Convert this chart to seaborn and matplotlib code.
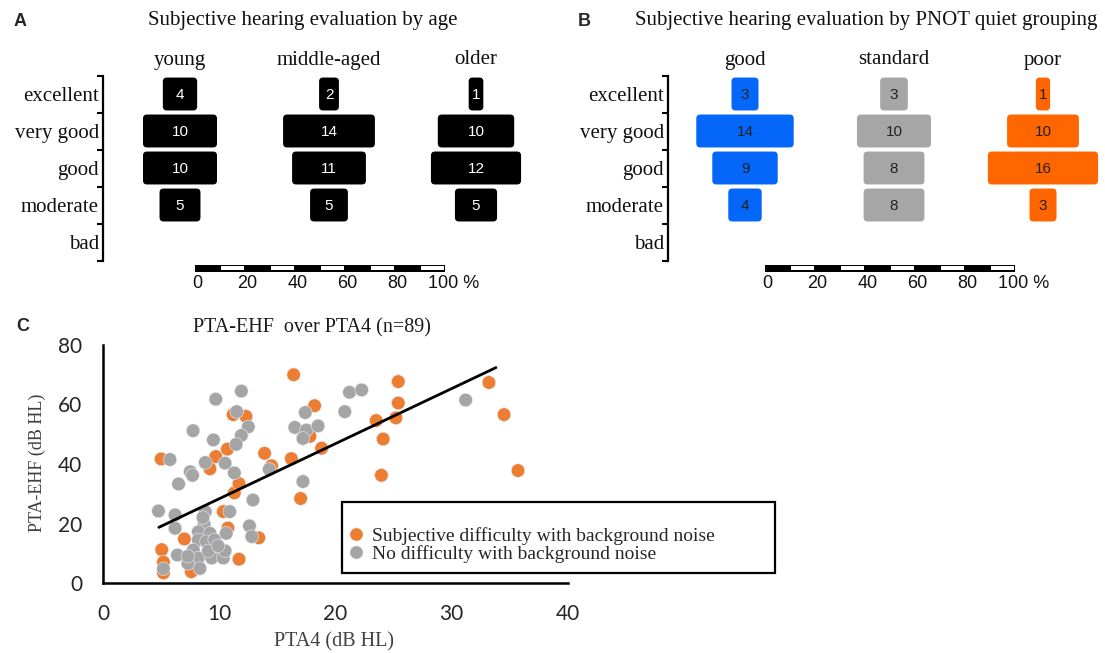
import numpy as np
import pandas as pd
import matplotlib
matplotlib.use("Agg")
import matplotlib.pyplot as plt
import seaborn as sns
from matplotlib.patches import FancyBboxPatch, Rectangle

# ---------------- data ----------------
ratings = ["excellent", "very good", "good", "moderate", "bad"]

age_groups = ["young", "middle-aged", "older"]
young = [4, 10, 10, 5, 0]
middle_aged = [2, 14, 11, 5, 0]
older = [1, 10, 12, 5, 0]

pnot_groups = ["good", "standard", "poor"]
pnot_good = [3, 14, 9, 4, 0]
pnot_standard = [3, 10, 8, 8, 0]
pnot_poor = [1, 10, 16, 3, 0]

scale_ticks = [0, 20, 40, 60, 80, 100]

label_diff = "Subjective difficulty with background noise"
label_nodiff = "No difficulty with background noise"

diff_pta4 = [5.0, 5.05, 5.2, 5.2, 7.0, 7.6, 9.2, 9.7, 10.7, 10.35, 10.75, 11.2, 12.3,
             11.3, 11.7, 11.7, 13.4, 13.9, 14.5, 16.4, 16.2, 17.0, 17.8, 18.2, 18.8,
             23.5, 23.95, 24.1, 25.2, 25.4, 25.4, 33.2, 34.5, 35.7, 9.8]
diff_ehf = [41.7, 11.2, 7.0, 3.4, 14.8, 3.8, 38.4, 42.5, 45.0, 24.0, 18.5, 56.6, 56.0,
            30.3, 33.4, 8.0, 15.2, 43.6, 39.4, 70.0, 41.8, 28.4, 49.3, 59.6, 45.3,
            54.6, 36.2, 48.4, 55.5, 60.5, 67.7, 67.4, 56.6, 37.8, 11.6]

nodiff_pta4 = [4.77, 5.76, 5.2, 6.2, 6.2, 6.4, 6.5, 7.5, 7.7, 7.75,
               8.8, 9.5, 9.7, 10.5, 11.3, 11.9, 11.5, 12.5, 11.9, 11.45,
               14.3, 12.9, 8.8, 8.7, 10.9, 12.6, 12.8, 10.6, 8.2, 9.2,
               8.2, 8.9, 9.6, 7.77, 8.2, 9.35, 10.35, 10.5, 9.06, 8.34,
               7.3, 17.4, 16.5, 17.5, 18.5, 17.2, 21.2, 22.25, 20.8, 17.2,
               31.2, 8.6, 9.9, 7.3]
nodiff_ehf = [24.2, 41.5, 4.8, 22.9, 18.4, 9.4, 33.3, 37.4, 36.2, 51.2,
              40.5, 48.1, 61.8, 40.3, 37.0, 64.5, 57.6, 52.5, 49.6, 46.6,
              38.2, 27.9, 24.0, 19.8, 24.0, 19.2, 15.6, 16.7, 17.2, 16.7,
              14.5, 13.9, 14.5, 11.1, 8.4, 8.4, 8.4, 10.8, 10.8, 4.9,
              6.6, 57.3, 52.3, 51.4, 52.8, 48.6, 64.1, 64.9, 57.6, 34.1,
              61.5, 22.0, 12.5, 9.0]

trend_x = [4.8, 33.8]
trend_y = [18.7, 72.4]

# ---------------- style ----------------
sns.set_theme(style="white")
SERIF = ["Liberation Serif", "DejaVu Serif"]
SANS = ["Liberation Sans", "DejaVu Sans"]
TICKF = ["Lato", "DejaVu Sans"]
plt.rcParams["font.family"] = SERIF

W, H = 1105, 653
fig = plt.figure(figsize=(W / 100, H / 100), dpi=100)
fig.patch.set_facecolor("white")


def rect(x0, y0, x1, y1):
    return [x0 / W, 1 - y1 / H, (x1 - x0) / W, (y1 - y0) / H]


def ftext(x, y, s, **kw):
    return fig.text(x / W, 1 - y / H, s, **kw)


ROW0, PITCH, PXPCT = 94, 37, 2.5


def pyramid_panel(px_left, px_right, px_zero, groups, centers_px, counts, colors, txtcolor):
    ax = fig.add_axes(rect(px_left, 40, px_right, 300))
    ax.set_xlim((px_left - px_zero) / PXPCT, (px_right - px_zero) / PXPCT)
    ax.set_ylim((300 - ROW0) / PITCH, (40 - ROW0) / PITCH)
    ax.patch.set_alpha(0)
    for s in ["top", "right", "bottom"]:
        ax.spines[s].set_visible(False)
    ax.spines["left"].set_bounds(-0.5, len(ratings) - 0.5)
    ax.spines["left"].set_linewidth(1.6)
    ax.spines["left"].set_color("black")
    ax.set_xticks([])
    ax.set_yticks(range(len(ratings)))
    ax.set_yticklabels(ratings, fontsize=15, family=SERIF, color="#111111")
    ax.tick_params(axis="y", which="major", length=0, pad=3)
    ax.set_yticks(np.arange(-0.5, len(ratings), 1), minor=True)
    ax.tick_params(axis="y", which="minor", length=4, width=1.5, color="black",
                   direction="out", left=True)
    aspect = PXPCT / PITCH
    for g, cpx, vals, col in zip(groups, centers_px, counts, colors):
        c = (cpx - px_zero) / PXPCT
        n = sum(vals)
        ax.text(c, (60 - ROW0) / PITCH, g, ha="center", va="center", fontsize=15,
                family=SERIF, color="#111111")
        for r, k in enumerate(vals):
            if k == 0:
                continue
            p = 100 * k / n
            w = 0.768 * p + 3.13
            h = 0.89
            ax.add_patch(FancyBboxPatch((c - w / 2, r - h / 2), w, h,
                                        boxstyle="round,pad=0,rounding_size=1.6",
                                        mutation_aspect=aspect, fc=col, ec="none"))
            ax.text(c, r + 0.02, str(k), ha="center", va="center", color=txtcolor,
                    fontsize=11, family=SANS)
    # scale bar
    ytop = (264.5 - ROW0) / PITCH
    ybot = (271.5 - ROW0) / PITCH
    inset = 1.5 / PITCH
    ax.add_patch(Rectangle((0, ytop), 100, ybot - ytop, fc="black", ec="none"))
    for s0 in range(10, 100, 20):
        ax.add_patch(Rectangle((s0 + 0.4, ytop + inset), 9.2, ybot - ytop - 2 * inset,
                               fc="white", ec="none"))
    ylab = (283 - ROW0) / PITCH
    for t in scale_ticks:
        if t < 100:
            ax.text(t + 1, ylab, str(t), ha="center", va="center", fontsize=13,
                    family=SANS, color="#111111")
        else:
            ax.text(t - 6.8, ylab, f"{t} %", ha="left", va="center", fontsize=13,
                    family=SANS, color="#111111")
    return ax


# Panel A
pyramid_panel(103, 560, 195, age_groups, [180, 329, 476],
              [young, middle_aged, older], ["black"] * 3, "white")
ftext(20, 22, "A", fontsize=13, fontweight="bold", family=SANS, ha="center", va="center")
ftext(303, 20, "Subjective hearing evaluation by age", fontsize=15, family=SERIF,
      ha="center", va="center", color="#111111")

# Panel B
pyramid_panel(668, 1105, 765, pnot_groups, [745, 894, 1043],
              [pnot_good, pnot_standard, pnot_poor],
              ["#0566FA", "#A6A6A6", "#FF6600"], "#222222")
ftext(584, 22, "B", fontsize=13, fontweight="bold", family=SANS, ha="center", va="center")
ftext(866, 20, "Subjective hearing evaluation by PNOT quiet grouping", fontsize=15,
      family=SERIF, ha="center", va="center", color="#111111")

# Panel C
df = pd.DataFrame({
    "PTA4": diff_pta4 + nodiff_pta4,
    "PTA-EHF": diff_ehf + nodiff_ehf,
    "group": [label_diff] * len(diff_pta4) + [label_nodiff] * len(nodiff_pta4),
})
axC = fig.add_axes(rect(103, 345, 568, 583))
sns.scatterplot(data=df, x="PTA4", y="PTA-EHF", hue="group",
                hue_order=[label_diff, label_nodiff],
                palette=["#ED7D31", "#A5A5A5"], s=95, edgecolor="#e8ecf4",
                linewidth=0.4, ax=axC, zorder=3, clip_on=False)
axC.plot(trend_x, trend_y, color="black", lw=2, zorder=4)
axC.set_xlim(0, 40)
axC.set_ylim(0, 80)
axC.set_xticks([0, 10, 20, 30, 40])
axC.set_yticks([0, 20, 40, 60, 80])
for s in ["top", "right"]:
    axC.spines[s].set_visible(False)
for s in ["left", "bottom"]:
    axC.spines[s].set_linewidth(1.8)
    axC.spines[s].set_color("black")
axC.tick_params(length=0, pad=15, labelsize=15, labelcolor="#262626")
for lbl in axC.get_xticklabels() + axC.get_yticklabels():
    lbl.set_family(TICKF)
axC.set_xlabel("")
axC.set_ylabel("")
axC.patch.set_alpha(0)

handles, labels = axC.get_legend_handles_labels()
if axC.get_legend() is not None:
    axC.get_legend().remove()
for hd in handles:
    try:
        hd.set_markersize(9.5)
    except Exception:
        pass
fig.legend(handles, labels, loc="center left", bbox_to_anchor=(349 / W, 1 - 545 / H),
           frameon=False, prop={"family": SERIF, "size": 14}, handlelength=0.7,
           handletextpad=0.5, labelspacing=0.0, borderpad=0, borderaxespad=0)
fig.add_artist(Rectangle((342 / W, 1 - 573 / H), (775 - 342) / W, (573 - 502) / H,
                         transform=fig.transFigure, fill=False, ec="black", lw=1.6))

ftext(23, 327, "C", fontsize=13, fontweight="bold", family=SANS, ha="center", va="center")
ftext(312, 328, "PTA-EHF  over PTA4 (n=89)", fontsize=14.5, family=SERIF,
      ha="center", va="center", color="#1a1a1a")
ftext(334, 642, "PTA4 (dB HL)", fontsize=14.5, family=SERIF, ha="center", va="center",
      color="#404040")
ftext(37, 463, "PTA-EHF (dB HL)", fontsize=13, family=SERIF, ha="center", va="center",
      rotation=90, color="#404040")

fig.savefig("out.png", dpi=100, facecolor="white")
